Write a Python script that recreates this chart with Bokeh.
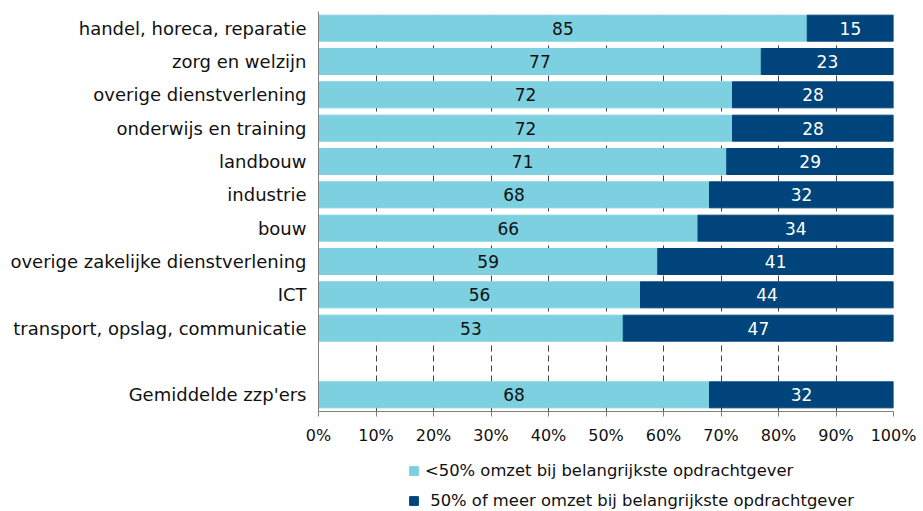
from bokeh.plotting import figure
from bokeh.layouts import column
from bokeh.models import (ColumnDataSource, FactorRange, Range1d, FixedTicker,
                          Legend, LegendItem)
from bokeh.core.properties import value
from bokeh.embed import file_html
from bokeh.resources import INLINE

categories = [
    "handel, horeca, reparatie",
    "zorg en welzijn",
    "overige dienstverlening",
    "onderwijs en training",
    "landbouw",
    "industrie",
    "bouw",
    "overige zakelijke dienstverlening",
    "ICT",
    "transport, opslag, communicatie",
    " ",
    "Gemiddelde zzp'ers",
]
low_share = [85, 77, 72, 72, 71, 68, 66, 59, 56, 53, None, 68]
high_share = [15, 23, 28, 28, 29, 32, 34, 41, 44, 47, None, 32]
series_names = ["<50% omzet bij belangrijkste opdrachtgever",
                " 50% of meer omzet bij belangrijkste opdrachtgever"]
x_ticks = [0, 10, 20, 30, 40, 50, 60, 70, 80, 90, 100]
x_tick_labels = ["0%", "10%", "20%", "30%", "40%", "50%", "60%", "70%", "80%", "90%", "100%"]

LIGHT = "#7dd0e0"
DARK = "#00447c"
FONT = "DejaVu Sans"

cats, lows, highs = [], [], []
for c, a, b in zip(categories, low_share, high_share):
    if a is None:
        continue
    cats.append(c); lows.append(a); highs.append(b)

src = ColumnDataSource(dict(
    cat=cats, low=lows, high=highs,
    low_mid=[a / 2 for a in lows],
    high_mid=[a + b / 2 for a, b in zip(lows, highs)],
    low_txt=[str(a) for a in lows],
    high_txt=[str(b) for b in highs],
))

p = figure(width=923, height=453, output_backend="svg", toolbar_location=None,
           y_range=FactorRange(factors=list(reversed(categories))),
           x_range=Range1d(0, 100),
           min_border_left=318, min_border_right=30, min_border_top=11, min_border_bottom=42)
p.outline_line_color = None

rs = p.hbar_stack(["low", "high"], y="cat", height=0.78, color=[LIGHT, DARK], source=src)

p.text(x="low_mid", y="cat", text="low_txt", source=src, text_align="center",
       text_baseline="middle", text_color="#111111", text_font=value(FONT),
       text_font_size="17px")
p.text(x="high_mid", y="cat", text="high_txt", source=src, text_align="center",
       text_baseline="middle", text_color="white", text_font=value(FONT),
       text_font_size="17px")

p.xaxis.ticker = FixedTicker(ticks=x_ticks)
p.xaxis.major_label_overrides = {t: l for t, l in zip(x_ticks, x_tick_labels)}
p.xaxis.minor_tick_line_color = None
p.xaxis.major_tick_in = 0
p.xaxis.major_tick_out = 5
p.xaxis.major_tick_line_color = "#808080"
p.xaxis.axis_line_color = "#808080"
p.xaxis.major_label_text_font = FONT
p.xaxis.major_label_text_font_size = "16px"
p.xaxis.major_label_text_color = "#111111"
p.xaxis.major_label_standoff = 9

p.yaxis.major_tick_line_color = None
p.yaxis.minor_tick_line_color = None
p.yaxis.axis_line_color = "#808080"
p.yaxis.major_label_text_font = FONT
p.yaxis.major_label_text_font_size = "18px"
p.yaxis.major_label_text_color = "#111111"
p.yaxis.major_label_standoff = 6

p.ygrid.grid_line_color = None
p.xgrid.ticker = FixedTicker(ticks=x_ticks)
p.xgrid.grid_line_color = "#404040"
p.xgrid.grid_line_dash = "6 4"
p.xgrid.grid_line_width = 1

# legend panel (frame aligned with the chart's frame by the column layout)
lg = figure(width=923, height=58, output_backend="svg", toolbar_location=None,
            x_range=Range1d(0, 1), y_range=Range1d(0, 1),
            min_border_left=318, min_border_right=30,
            min_border_top=0, min_border_bottom=0)
lg.axis.visible = False
lg.grid.visible = False
lg.outline_line_color = None
hidden = ColumnDataSource(dict(y=[float("nan")], left=[float("nan")], right=[float("nan")]))
r_low = lg.hbar(y="y", left="left", right="right", height=1, color=LIGHT, source=hidden)
r_high = lg.hbar(y="y", left="left", right="right", height=1, color=DARK, source=hidden)

legend = Legend(items=[LegendItem(label=series_names[0], renderers=[r_low]),
                       LegendItem(label=series_names[1], renderers=[r_high])],
                location=(90, 1), orientation="vertical",
                glyph_width=11, glyph_height=11, label_standoff=6,
                label_text_font=FONT, label_text_font_size="16.4px",
                label_text_color="#111111", label_height=20, spacing=10,
                padding=0, margin=0, background_fill_alpha=0, border_line_color=None)
lg.add_layout(legend, "center")

layout = column(p, lg, spacing=0)
open("out.html", "w").write(file_html(layout, INLINE))
